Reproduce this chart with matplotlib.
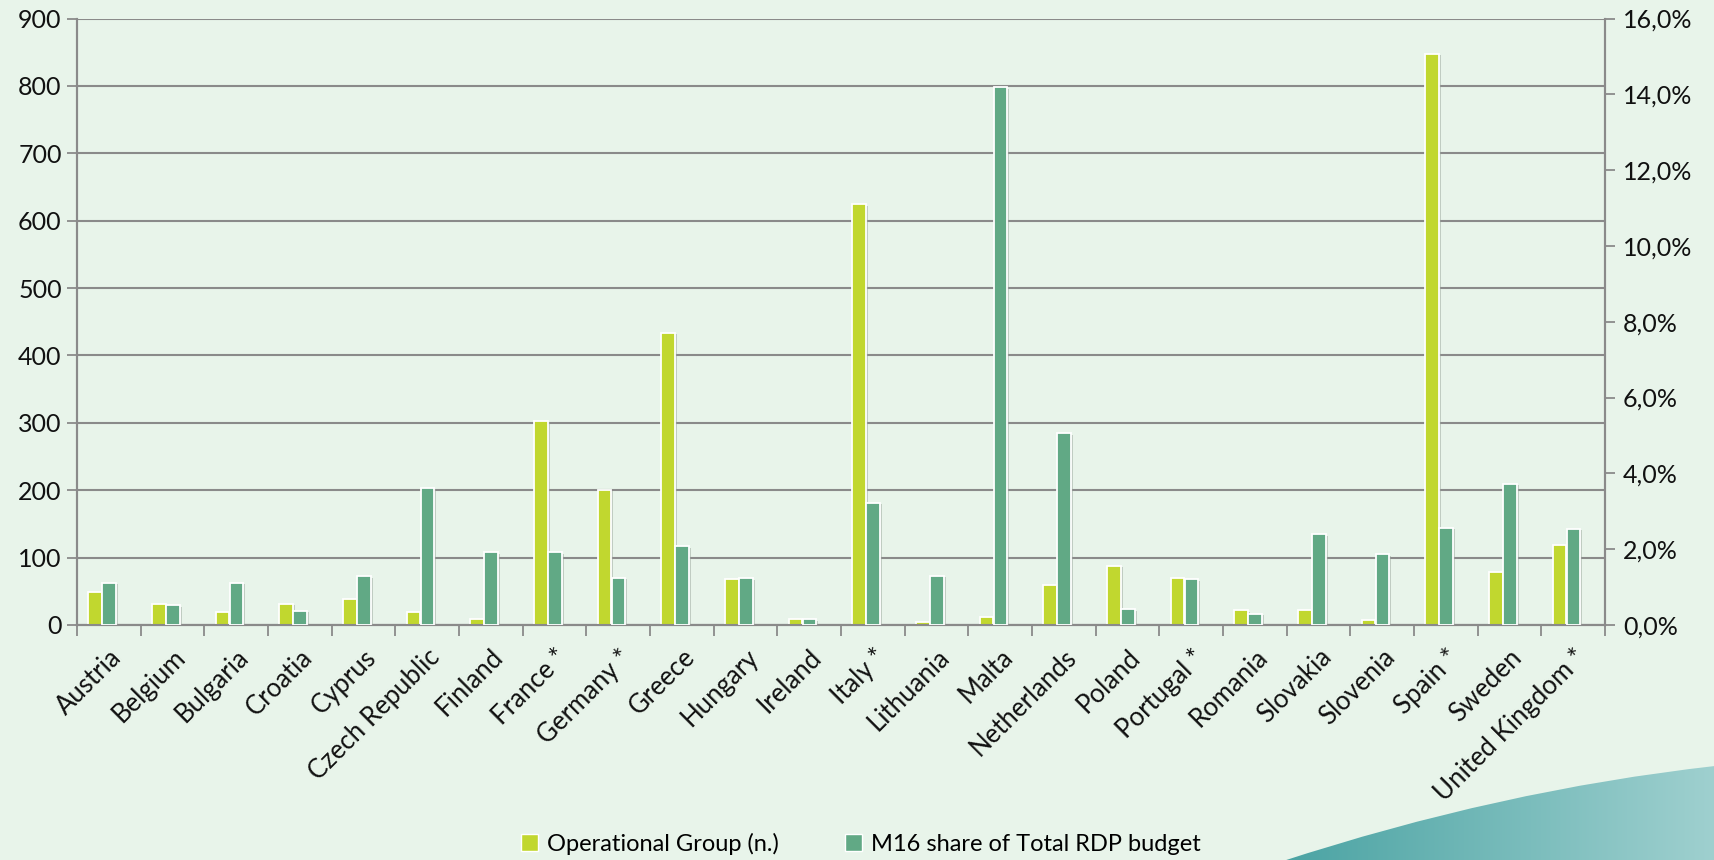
import matplotlib
matplotlib.use("Agg")
import matplotlib.pyplot as plt
import numpy as np
from matplotlib.ticker import FuncFormatter, MultipleLocator, FixedLocator
from matplotlib.patches import PathPatch
from matplotlib.path import Path
from matplotlib.colors import LinearSegmentedColormap
import matplotlib.patheffects as pe

countries = ["Austria", "Belgium", "Bulgaria", "Croatia", "Cyprus", "Czech Republic",
             "Finland", "France *", "Germany *", "Greece", "Hungary", "Ireland",
             "Italy *", "Lithuania", "Malta", "Netherlands", "Poland", "Portugal *",
             "Romania", "Slovakia", "Slovenia", "Spain *", "Sweden", "United Kingdom *"]
operational_groups = [49, 31, 19, 31, 39, 19, 9, 303, 201, 434, 68, 9,
                      624, 5, 12, 59, 88, 70, 22, 23, 7, 848, 79, 119]
m16_share = [1.11, 0.52, 1.12, 0.37, 1.28, 3.62, 1.92, 1.92, 1.24, 2.08, 1.23, 0.15,
             3.23, 1.30, 14.18, 5.06, 0.41, 1.21, 0.30, 2.39, 1.87, 2.56, 3.73, 2.54]
legend_labels = ["Operational Group (n.)", "M16 share of Total RDP budget"]

BG = "#e8f4ea"
YELLOW = "#c1d72f"
TEAL = "#61a985"
GRID = "#8a8a8a"
TXT = "#111111"
FONT = ["Lato", "DejaVu Sans"]
plt.rcParams['font.family'] = FONT

W, H = 1715, 860
fig = plt.figure(figsize=(W / 100, H / 100), dpi=100, facecolor=BG)

# decorative swoosh (bottom right)
deco = fig.add_axes([0, 0, 1, 1], zorder=0)
deco.set_xlim(0, W)
deco.set_ylim(H, 0)
deco.axis("off")
verts = [(1280, 862), (1500, 790), (1715, 766), (1717, 766), (1717, 862), (1280, 862)]
codes = [Path.MOVETO, Path.CURVE3, Path.CURVE3, Path.LINETO, Path.LINETO, Path.CLOSEPOLY]
patch = PathPatch(Path(verts, codes), facecolor="none", edgecolor="none")
deco.add_patch(patch)
grad = np.linspace(0, 1, 256).reshape(1, -1)
cmap = LinearSegmentedColormap.from_list("sw", ["#4aa3a3", "#9fd0cf"])
im = deco.imshow(grad, extent=[1280, 1715, 862, 760], aspect="auto", cmap=cmap, zorder=1)
im.set_clip_path(patch)

ax = fig.add_axes([77 / W, 1 - 625 / H, (1605 - 77) / W, (625 - 18.5) / H], zorder=2)
ax.set_facecolor("none")
ax2 = ax.twinx()
ax2.set_facecolor("none")

n = len(countries)
x = np.arange(n)
bw = 0.215
shadow = [pe.SimplePatchShadow(offset=(1.5, -1.0), shadow_rgbFace="#9aa59c", alpha=0.5), pe.Normal()]
b1 = ax.bar(x - 0.215, operational_groups, width=bw, color=YELLOW, edgecolor="white",
            linewidth=1.3, zorder=3)
b2 = ax2.bar(x + 0.005, np.array(m16_share) / 100.0, width=bw, color=TEAL, edgecolor="white",
             linewidth=1.3, zorder=3)
for b in list(b1) + list(b2):
    b.set_path_effects(shadow)

ax.set_xlim(-0.5, n - 0.5)
ax.set_ylim(0, 900)
ax2.set_ylim(0, 0.16)
ax.yaxis.set_major_locator(MultipleLocator(100))
ax2.yaxis.set_major_locator(MultipleLocator(0.02))
ax2.yaxis.set_major_formatter(FuncFormatter(lambda v, p: f"{v * 100:.1f}%".replace(".", ",")))

ax.grid(axis="y", color=GRID, linewidth=1.5, zorder=0)
ax.set_axisbelow(True)

for a in (ax, ax2):
    for s in a.spines.values():
        s.set_color(GRID)
        s.set_linewidth(1.5)
    a.spines["top"].set_visible(False)
ax.tick_params(axis="y", length=7, width=1.3, color=GRID, labelsize=18, pad=4, labelcolor=TXT)
ax2.tick_params(axis="y", length=7, width=1.3, color=GRID, labelsize=18, pad=6, labelcolor=TXT)

ax.set_xticks(x)
ax.set_xticklabels(countries, rotation=45, ha="right", va="top", rotation_mode="anchor",
                   fontsize=18.5, color=TXT)
ax.tick_params(axis="x", which="major", length=0, pad=14)
ax.xaxis.set_minor_locator(FixedLocator(np.arange(-0.5, n, 1.0)))
ax.tick_params(axis="x", which="minor", length=8, width=1.3, color=GRID)

handles = [plt.Rectangle((0, 0), 1, 1, facecolor=YELLOW, edgecolor="white", linewidth=1),
           plt.Rectangle((0, 0), 1, 1, facecolor=TEAL, edgecolor="white", linewidth=1)]
fig.legend(handles, legend_labels, loc="center", bbox_to_anchor=(0.502, 0.019), ncol=2,
           frameon=False, fontsize=17, handlelength=0.7, handleheight=0.7,
           handletextpad=0.4, columnspacing=2.8)

fig.savefig("out.png", dpi=100, facecolor=BG)
